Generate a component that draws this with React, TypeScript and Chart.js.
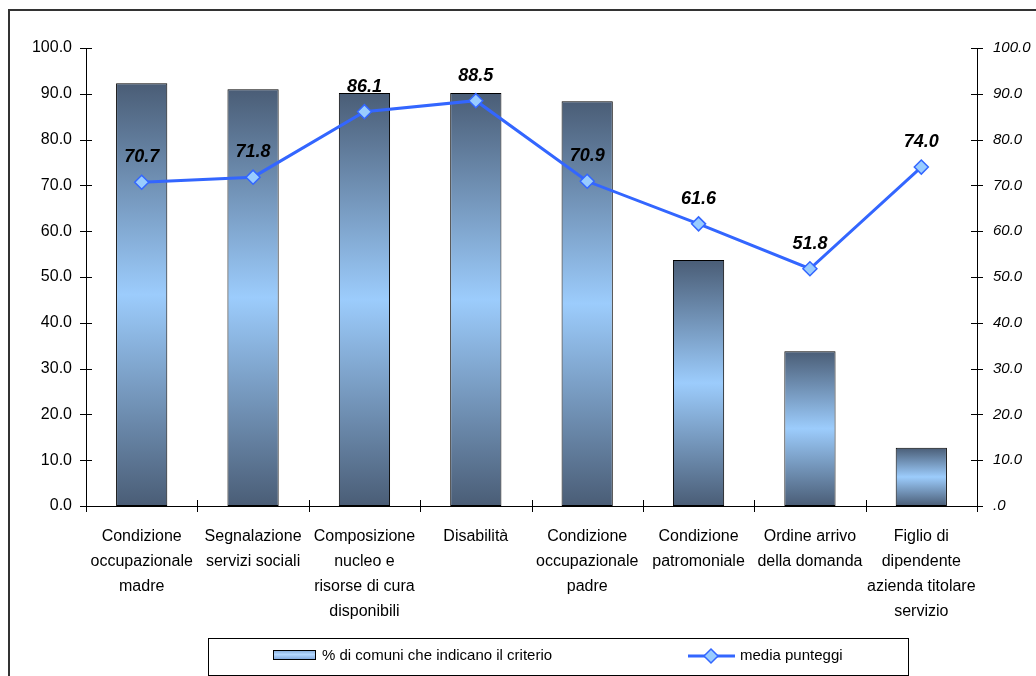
import React, { useEffect, useRef } from "react";
import { Chart, registerables } from "chart.js";

Chart.register(...registerables);

const categories: string[][] = [
  ["Condizione", "occupazionale", "madre"],
  ["Segnalazione", "servizi sociali"],
  ["Composizione", "nucleo e", "risorse di cura", "disponibili"],
  ["Disabilità"],
  ["Condizione", "occupazionale", "padre"],
  ["Condizione", "patromoniale"],
  ["Ordine arrivo", "della domanda"],
  ["Figlio di", "dipendente", "azienda titolare", "servizio"],
];

const percentComuni = [92.3, 91.0, 90.2, 90.2, 88.4, 53.7, 33.8, 12.7];
const mediaPunteggi = [70.7, 71.8, 86.1, 88.5, 70.9, 61.6, 51.8, 74.0];

const barLabel = "% di comuni che indicano il criterio";
const lineLabel = "media punteggi";

const FONT = "'Liberation Sans', Arial, sans-serif";
const LINE_COLOR = "#3366ff";
const MARKER_FILL = "#99ccff";

const decorPlugin = {
  id: "decor",
  beforeDraw(chart: any) {
    const ctx = chart.ctx;
    ctx.save();
    ctx.strokeStyle = "#333";
    ctx.lineWidth = 2;
    ctx.strokeRect(9, 10, 1100, 800);
    ctx.restore();
  },
  afterDatasetsDraw(chart: any) {
    const ctx = chart.ctx;
    const meta = chart.getDatasetMeta(1);
    ctx.save();
    ctx.fillStyle = "#000";
    ctx.font = `italic bold 18px ${FONT}`;
    ctx.textAlign = "center";
    ctx.textBaseline = "alphabetic";
    meta.data.forEach((pt: any, i: number) => {
      ctx.fillText(mediaPunteggi[i].toFixed(1), pt.x, pt.y - 20);
    });
    ctx.restore();
  },
  afterDraw(chart: any) {
    const ctx = chart.ctx;
    const area = chart.chartArea;
    const y = chart.scales.y;
    const y1 = chart.scales.y1;
    ctx.save();
    ctx.strokeStyle = "#000";
    ctx.lineWidth = 1;
    ctx.beginPath();
    y.ticks.forEach((t: any) => {
      const py = Math.round(y.getPixelForValue(t.value)) + 0.5;
      ctx.moveTo(area.left - 6, py);
      ctx.lineTo(area.left + 6, py);
    });
    y1.ticks.forEach((t: any) => {
      const py = Math.round(y1.getPixelForValue(t.value)) + 0.5;
      ctx.moveTo(area.right - 6, py);
      ctx.lineTo(area.right + 6, py);
    });
    const n = categories.length;
    const w = (area.right - area.left) / n;
    for (let i = 0; i <= n; i++) {
      const px = Math.round(area.left + i * w) + 0.5;
      ctx.moveTo(px, area.bottom - 6);
      ctx.lineTo(px, area.bottom + 6);
    }
    ctx.stroke();

    // legend
    const lx = 208.5, ly = 638.5, lw = 700, lh = 37;
    ctx.strokeStyle = "#000";
    ctx.strokeRect(lx, ly, lw, lh);
    const g = ctx.createLinearGradient(0, 650, 0, 659);
    g.addColorStop(0, "#7fa6d6");
    g.addColorStop(0.5, "#b4d8ff");
    g.addColorStop(1, "#86ade0");
    ctx.fillStyle = g;
    ctx.fillRect(273, 650, 42, 9);
    ctx.strokeRect(273.5, 650.5, 42, 9);
    ctx.fillStyle = "#000";
    ctx.font = `15px ${FONT}`;
    ctx.textAlign = "left";
    ctx.textBaseline = "middle";
    ctx.fillText(barLabel, 322, 656);
    ctx.strokeStyle = LINE_COLOR;
    ctx.lineWidth = 3;
    ctx.beginPath();
    ctx.moveTo(688, 656);
    ctx.lineTo(735, 656);
    ctx.stroke();
    ctx.beginPath();
    ctx.moveTo(711, 649);
    ctx.lineTo(718, 656);
    ctx.lineTo(711, 663);
    ctx.lineTo(704, 656);
    ctx.closePath();
    ctx.fillStyle = MARKER_FILL;
    ctx.fill();
    ctx.lineWidth = 1.5;
    ctx.stroke();
    ctx.fillStyle = "#000";
    ctx.fillText(lineLabel, 740, 656);
    ctx.restore();
  },
};

export default function App() {
  const ref = useRef<HTMLCanvasElement | null>(null);
  useEffect(() => {
    if (!ref.current) return;
    Chart.defaults.color = "#000";
    Chart.defaults.font.family = FONT;
    const chart = new Chart(ref.current, {
      type: "bar",
      data: {
        labels: categories as any,
        datasets: [
          {
            type: "bar",
            label: barLabel,
            data: percentComuni,
            yAxisID: "y",
            order: 1,
            borderColor: "#000",
            borderWidth: 1,
            borderSkipped: false,
            barPercentage: 0.46,
            categoryPercentage: 1,
            backgroundColor: (c: any) => {
              const chart = c.chart;
              const ys = chart.scales && chart.scales.y;
              if (!ys || c.type !== "data") return "#7ea6d4";
              const v = percentComuni[c.dataIndex];
              const top = ys.getPixelForValue(v);
              const bot = ys.getPixelForValue(0);
              if (!isFinite(top) || !isFinite(bot) || top === bot) return "#7ea6d4";
              const g = chart.ctx.createLinearGradient(0, top, 0, bot);
              g.addColorStop(0, "#4a5d76");
              g.addColorStop(0.5, "#9cccfc");
              g.addColorStop(1, "#4a5d76");
              return g;
            },
          } as any,
          {
            type: "line",
            label: lineLabel,
            data: mediaPunteggi,
            yAxisID: "y1",
            order: 0,
            borderColor: LINE_COLOR,
            borderWidth: 3,
            pointStyle: "rectRot",
            pointRadius: 7,
            pointBackgroundColor: MARKER_FILL,
            pointBorderColor: LINE_COLOR,
            pointBorderWidth: 1.5,
            tension: 0,
          } as any,
        ],
      },
      options: {
        responsive: false,
        animation: false,
        layout: { padding: { top: 48, bottom: 0, left: 0, right: 0 } },
        plugins: {
          legend: { display: false },
          tooltip: { enabled: false },
        },
        scales: {
          x: {
            offset: true,
            grid: { display: false, drawTicks: false },
            border: { display: true, color: "#000", width: 1 },
            ticks: {
              font: { size: 16, family: FONT, lineHeight: 1.5625 },
              padding: 18,
              maxRotation: 0,
              autoSkip: false,
              color: "#000",
            },
            afterFit: (s: any) => {
              s.height = 170;
            },
          },
          y: {
            position: "left",
            min: 0,
            max: 100,
            grid: { display: false, drawTicks: false },
            border: { display: true, color: "#000", width: 1 },
            ticks: {
              stepSize: 10,
              padding: 14,
              font: { size: 16, family: FONT },
              color: "#000",
              callback: (v: any) => Number(v).toFixed(1),
            },
            afterFit: (s: any) => {
              s.width = 86;
            },
          },
          y1: {
            position: "right",
            min: 0,
            max: 100,
            grid: { display: false, drawTicks: false },
            border: { display: true, color: "#000", width: 1 },
            ticks: {
              stepSize: 10,
              padding: 16,
              font: { size: 15, style: "italic", family: FONT },
              color: "#000",
              callback: (v: any) => (Number(v) === 0 ? ".0" : Number(v).toFixed(1)),
            },
            afterFit: (s: any) => {
              s.width = 59;
            },
          },
        },
      },
      plugins: [decorPlugin],
    });
    return () => chart.destroy();
  }, []);
  return (
    <div style={{ position: "fixed", left: 0, top: 0, width: 1036, height: 676, background: "#fff" }}>
      <canvas ref={ref} width={1036} height={676} style={{ display: "block" }} />
    </div>
  );
}
